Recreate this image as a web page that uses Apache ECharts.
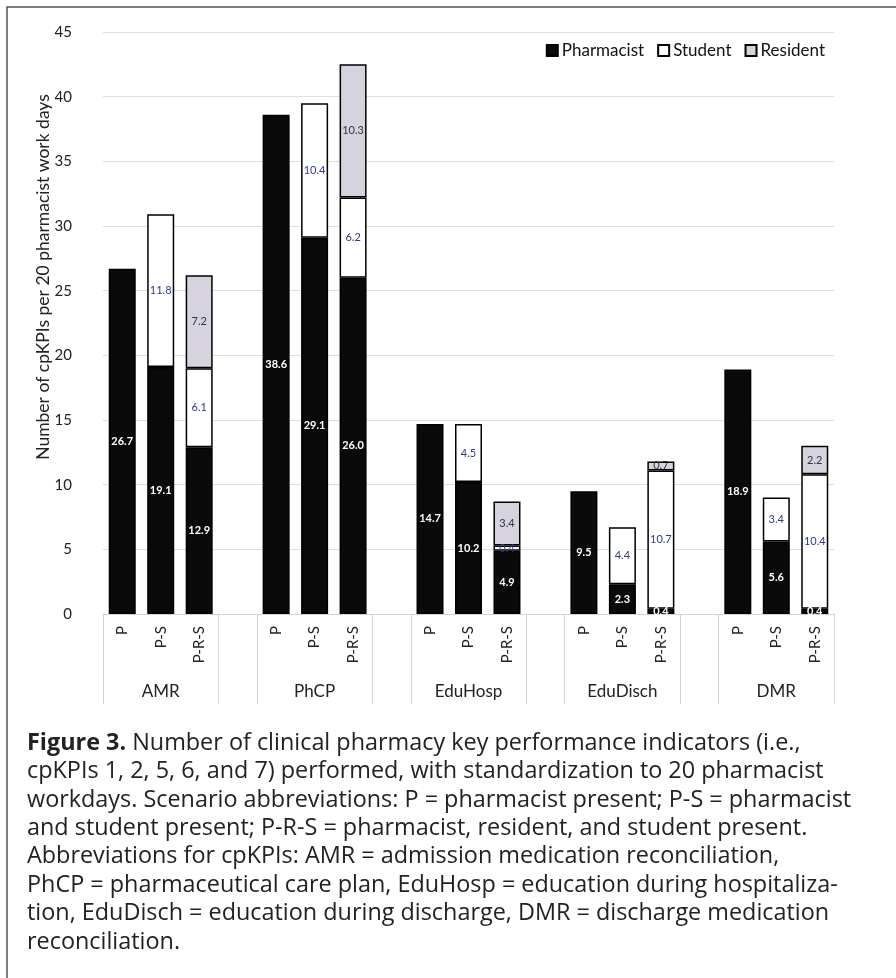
<!DOCTYPE html>
<html>
<head>
<meta charset="utf-8">
<script src="https://cdn.jsdelivr.net/npm/echarts@6/dist/echarts.min.js"></script>
<style>html,body{margin:0;padding:0;background:#fff}#c{width:896px;height:978px}</style>
</head>
<body>
<div id="c"></div>
<script>
// ---- data ----
const groups = ['AMR', 'PhCP', 'EduHosp', 'EduDisch', 'DMR'];
const scenarios = ['P', 'P-S', 'P-R-S'];
const categories = ['P','P-S','P-R-S','', 'P','P-S','P-R-S','', 'P','P-S','P-R-S','', 'P','P-S','P-R-S','', 'P','P-S','P-R-S'];
const pharmacist = [26.7, 19.1, 12.9, null, 38.6, 29.1, 26.0, null, 14.7, 10.2, 4.9, null, 9.5, 2.3, 0.4, null, 18.9, 5.6, 0.4];
const student    = [null, 11.8, 6.1, null, null, 10.4, 6.2, null, null, 4.5, 0.4, null, null, 4.4, 10.7, null, null, 3.4, 10.4];
const resident   = [null, null, 7.2, null, null, null, 10.3, null, null, null, 3.4, null, null, null, 0.7, null, null, null, 2.2];
const yTicks = [0, 5, 10, 15, 20, 25, 30, 35, 40, 45];
const groupAxisLabels = categories.map((c, i) => (i % 4 === 1 ? groups[(i - 1) / 4] : ''));
const boundaryIdx = [0, 3, 4, 7, 8, 11, 12, 15, 16];

const captionLines = [
  '{b|Figure 3.} Number of clinical pharmacy key performance indicators (i.e.,',
  'cpKPIs 1, 2, 5, 6, and 7) performed, with standardization to 20 pharmacist',
  'workdays. Scenario abbreviations: P = pharmacist present; P-S = pharmacist',
  'and student present; P-R-S = pharmacist, resident, and student present.',
  'Abbreviations for cpKPIs: AMR = admission medication reconciliation,',
  'PhCP = pharmaceutical care plan, EduHosp = education during hospitaliza-',
  'tion, EduDisch = education during discharge, DMR = discharge medication',
  'reconciliation.'
];

const FONT = 'Lato, "Noto Sans", sans-serif';
const CAPFONT = '"Open Sans", "Noto Sans", sans-serif';
const chart = echarts.init(document.getElementById('c'), null, { renderer: 'canvas' });
const fmt = p => (p.value == null ? '' : Number(p.value).toFixed(1));

chart.setOption({
  backgroundColor: '#fff',
  animation: false,
  textStyle: { fontFamily: FONT },
  grid: { left: 103, right: 62, top: 32, bottom: 364, containLabel: false },
  legend: {
    right: 66, top: 37,
    itemWidth: 11, itemHeight: 11, itemGap: 13,
    icon: 'rect',
    textStyle: { fontSize: 17, color: '#111', fontFamily: FONT, padding: [0, 0, 0, -1] },
    data: ['Pharmacist', 'Student', 'Resident']
  },
  xAxis: [{
    type: 'category',
    data: categories,
    position: 'bottom',
    axisLine: { show: true, lineStyle: { color: '#d2d2da', width: 1 } },
    axisTick: {
      show: true, length: 90, alignWithLabel: false,
      interval: (i) => boundaryIdx.indexOf(i) >= 0,
      lineStyle: { color: '#d2d2da', width: 1 }
    },
    axisLabel: { interval: 0, rotate: 90, margin: 12, fontSize: 15, color: '#222', fontFamily: FONT }
  }, {
    type: 'category',
    data: groupAxisLabels,
    position: 'bottom',
    axisLine: { show: false },
    axisTick: { show: false },
    axisLabel: { interval: 0, margin: 69, fontSize: 17, color: '#222', fontFamily: FONT }
  }],
  yAxis: {
    type: 'value', min: 0, max: 45, interval: 5,
    name: 'Number of cpKPIs per 20 pharmacist work days',
    nameLocation: 'middle', nameGap: 51, nameMoveOverlap: false,
    nameTextStyle: { fontSize: 17.5, color: '#222', fontFamily: FONT, padding: [0, 0, 0, 92] },
    axisLine: { show: false }, axisTick: { show: false },
    axisLabel: { margin: 31, fontSize: 15, color: '#222', fontFamily: FONT,
      formatter: v => (yTicks.indexOf(v) >= 0 ? String(v) : '') },
    splitLine: { lineStyle: { color: '#dedede', width: 1.2 } }
  },
  series: [{
    name: 'Pharmacist', type: 'bar', stack: 'a', data: pharmacist, barWidth: 27,
    itemStyle: { color: '#0a0a0a', borderColor: '#000', borderWidth: 1.5 },
    label: { show: true, position: 'inside', color: '#fff', fontWeight: 'bold', fontSize: 11, formatter: fmt }
  }, {
    name: 'Student', type: 'bar', stack: 'a', data: student, barWidth: 27,
    itemStyle: { color: '#ffffff', borderColor: '#000', borderWidth: 1.5 },
    label: { show: true, position: 'inside', color: '#2d3b8a', fontSize: 11, formatter: fmt }
  }, {
    name: 'Resident', type: 'bar', stack: 'a', data: resident, barWidth: 27,
    itemStyle: { color: '#d6d3de', borderColor: '#000', borderWidth: 1.5 },
    label: { show: true, position: 'inside', color: '#333344', fontSize: 11, formatter: fmt }
  }],
  graphic: [{
    type: 'rect', z: -10, silent: true,
    shape: { x: 7, y: 7, width: 920, height: 1000 },
    style: { fill: 'none', stroke: '#555', lineWidth: 1.5 }
  }, {
    type: 'text', left: 27, top: 729, silent: true,
    style: {
      text: captionLines.join('\n'),
      fontFamily: CAPFONT, fontSize: 23.4, lineHeight: 28.4, fill: '#222',
      rich: { b: { fontWeight: 'bold', fontSize: 23.4, lineHeight: 28.4, fontFamily: CAPFONT, fill: '#222' } }
    }
  }]
});
</script>
</body>
</html>
